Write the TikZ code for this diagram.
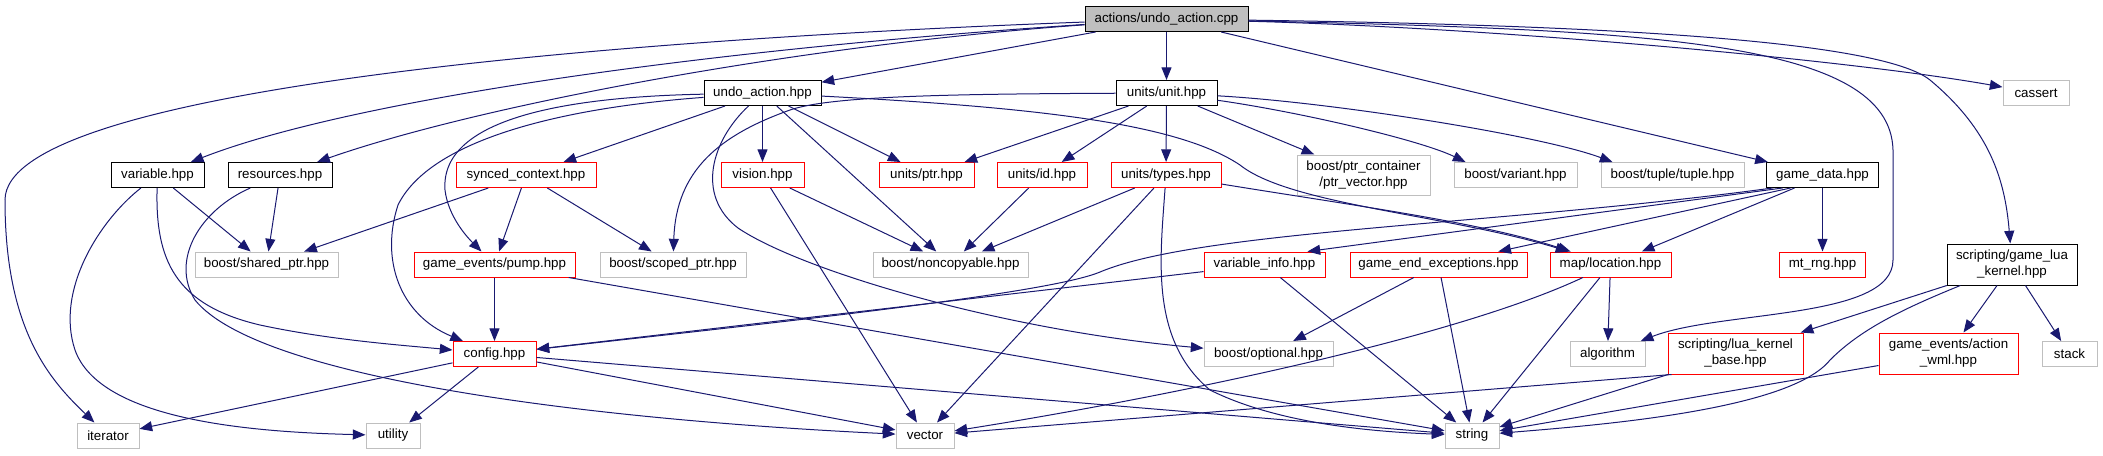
\documentclass[tikz,border=0pt]{standalone}
\usepackage{fontspec}
\setmainfont{Liberation Sans}
\usetikzlibrary{arrows.meta,calc}
\definecolor{edgeblue}{HTML}{191970}
\definecolor{greyline}{HTML}{BFBFBF}
\definecolor{greyfill}{HTML}{BFBFBF}
\tikzset{
  box/.style={draw, line width=0.75pt, inner sep=0pt, minimum height=25*0.75pt,
    font=\fontsize{10}{12}\selectfont, align=center, fill=white},
  blk/.style={box, draw=black},
  rd/.style={box, draw=red},
  gr/.style={box, draw=greyline},
  wd/.style={minimum width=#1*0.75pt},
  ht/.style={minimum height=#1*0.75pt},
  edg/.style={draw=edgeblue, line width=0.75pt, -{Triangle[length=9.5pt,width=7.5pt]}},
}
\begin{document}
\begin{tikzpicture}[x=0.75pt,y=-0.75pt]
\useasboundingbox (0,0) rectangle (2103,455);
% nodes
\node[blk, fill=greyfill, wd=163] (cpp) at (1166.5,19) {actions/undo\_action.cpp};
\node[blk, wd=117] (undo) at (762.5,93) {undo\_action.hpp};
\node[blk, wd=101] (unit) at (1166.5,93) {units/unit.hpp};
\node[gr, wd=66] (cassert) at (2036,93) {cassert};
\node[blk, wd=93] (variable) at (157.5,175) {variable.hpp};
\node[blk, wd=104] (resources) at (280,175) {resources.hpp};
\node[rd, wd=140] (synced) at (526,175) {synced\_context.hpp};
\node[rd, wd=83] (vision) at (762.5,175) {vision.hpp};
\node[rd, wd=95] (uptr) at (926.5,175) {units/ptr.hpp};
\node[rd, wd=90] (uid) at (1042,175) {units/id.hpp};
\node[rd, wd=110] (utypes) at (1166,175) {units/types.hpp};
\node[gr, wd=133, ht=40] (ptrvec) at (1363.5,175) {boost/ptr\_container\\/ptr\_vector.hpp};
\node[gr, wd=123] (variant) at (1515.5,175) {boost/variant.hpp};
\node[gr, wd=143] (tuple) at (1672.5,175) {boost/tuple/tuple.hpp};
\node[blk, wd=112] (gamedata) at (1822.5,175) {game\_data.hpp};
\node[gr, wd=143] (shared) at (266.5,264.5) {boost/shared\_ptr.hpp};
\node[rd, wd=161] (pump) at (494.5,264.5) {game\_events/pump.hpp};
\node[gr, wd=146] (scoped) at (673,264.5) {boost/scoped\_ptr.hpp};
\node[gr, wd=155] (noncopy) at (950.5,264.5) {boost/noncopyable.hpp};
\node[rd, wd=121] (varinfo) at (1264.5,264.5) {variable\_info.hpp};
\node[rd, wd=177] (gameend) at (1438.5,264.5) {game\_end\_exceptions.hpp};
\node[rd, wd=121] (location) at (1610.5,264.5) {map/location.hpp};
\node[rd, wd=86] (mtrng) at (1822.5,264.5) {mt\_rng.hpp};
\node[blk, wd=130, ht=41] (luakernel) at (2012,264.5) {scripting/game\_lua\\\_kernel.hpp};
\node[rd, wd=83] (config) at (494.5,354) {config.hpp};
\node[gr, wd=129] (optional) at (1268.5,354) {boost/optional.hpp};
\node[gr, wd=75] (algorithm) at (1607.5,354) {algorithm};
\node[rd, wd=135, ht=41] (luabase) at (1735.5,353.5) {scripting/lua\_kernel\\\_base.hpp};
\node[rd, wd=139, ht=41] (actionwml) at (1948.5,353.5) {game\_events/action\\\_wml.hpp};
\node[gr, wd=55] (stack) at (2069.5,354) {stack};
\node[gr, wd=62] (iterator) at (108,435.5) {iterator};
\node[gr, wd=54] (utility) at (393,435.5) {utility};
\node[gr, wd=58] (vector) at (925,435.5) {vector};
\node[gr, wd=54] (string) at (1472,435.5) {string};
% edges from cpp
\draw[edg] (cpp) .. controls (600,40) and (5,90) .. (5,200) .. controls (5,330) and (50,380) .. (iterator);
\draw[edg] (cpp) .. controls (700,50) and (350,100) .. (variable);
\draw[edg] (cpp) .. controls (800,45) and (480,105) .. (resources);
\draw[edg] (cpp) -- (undo);
\draw[edg] (cpp) -- (unit);
\draw[edg] (cpp) .. controls (1500,28) and (1850,60) .. (cassert);
\draw[edg] (cpp) .. controls (1600,25) and (1880,40) .. (1930,80) .. controls (1990,130) and (2005,180) .. (luakernel);
\draw[edg] (cpp) .. controls (1650,30) and (1890,40) .. (1893,150) -- (1893,260) .. controls (1893,320) and (1720,310) .. (algorithm);
\draw[edg] (cpp) -- (gamedata);
% unit
\draw[edg] (unit) -- (uptr);
\draw[edg] (unit) -- (uid);
\draw[edg] (unit) -- (utypes);
\draw[edg] (unit) -- (ptrvec);
\draw[edg] (unit) .. controls (1300,112) and (1420,140) .. ($(variant.north west)+(12,0)$);
\draw[edg] (unit) .. controls (1330,102) and (1540,135) .. ($(tuple.north west)+(12,0)$);
\draw[edg] (unit) .. controls (950,94) and (830,96) .. (790,110) .. controls (720,135) and (676,170) .. (scoped);
% undo
\draw[edg] (undo) -- (synced);
\draw[edg] (undo) -- (vision);
\draw[edg] (undo) -- (uptr);
\draw[edg] (undo) -- (noncopy);
\draw[edg] (undo) .. controls (712,140) and (695,195) .. (738,228) .. controls (800,270) and (1000,330) .. (optional);
\draw[edg] (undo) .. controls (560,97) and (440,120) .. (445,190) .. controls (448,215) and (465,235) .. (pump);
\draw[edg] (undo) .. controls (560,108) and (430,140) .. (398,205) .. controls (380,260) and (400,315) .. (config);
\draw[edg] (undo) .. controls (1050,108) and (1180,125) .. (1240,165) .. controls (1290,205) and (1450,215) .. (location);
% vision, id, types
\draw[edg] (vision) -- (noncopy);
\draw[edg] (vision) -- (vector);
\draw[edg] (uid) -- (noncopy);
\draw[edg] (utypes) -- (noncopy);
\draw[edg] (utypes) -- (vector);
\draw[edg] (utypes) .. controls (1160,260) and (1150,340) .. (1210,390) .. controls (1280,425) and (1380,432) .. (string);
\draw[edg] (utypes) .. controls (1350,205) and (1480,222) .. (location);
% variable, resources, synced
\draw[edg] (variable) .. controls (100,220) and (55,290) .. (75,350) .. controls (100,420) and (250,432) .. (utility);
\draw[edg] (variable) .. controls (155,260) and (175,305) .. (260,325) .. controls (330,340) and (400,345) .. (config);
\draw[edg] (variable) -- (shared);
\draw[edg] (resources) -- (shared);
\draw[edg] (resources) .. controls (200,210) and (170,260) .. (195,300) .. controls (260,380) and (600,420) .. (vector);
\draw[edg] (synced) -- (shared);
\draw[edg] (synced) -- (pump);
\draw[edg] (synced) -- (scoped);
% pump, config
\draw[edg] (pump) -- (config);
\draw[edg] (pump) -- (string);
\draw[edg] (config) -- (iterator);
\draw[edg] (config) -- (utility);
\draw[edg] (config) -- (vector);
\draw[edg] (config) -- (string);
% game data
\draw[edg] ($(gamedata.south)+(-50,0)$) .. controls (1500,225) and (1200,230) .. (1100,272) .. controls (1050,293) and (800,320) .. (config);
\draw[edg] ($(gamedata.south)+(-40,0)$) -- ($(varinfo.north east)+(-18,0)$);
\draw[edg] ($(gamedata.south)+(-32,0)$) -- (gameend);
\draw[edg] ($(gamedata.south)+(-28,0)$) -- (location);
\draw[edg] (gamedata) -- (mtrng);
% varinfo, gameend, location
\draw[edg] (varinfo) -- (config);
\draw[edg] (varinfo) -- (string);
\draw[edg] (gameend) -- (optional);
\draw[edg] (gameend) -- (string);
\draw[edg] (location) -- (algorithm);
\draw[edg] (location) -- (string);
\draw[edg] (location) .. controls (1450,340) and (1150,400) .. (vector);
% lua
\draw[edg] (luakernel) -- (luabase);
\draw[edg] (luakernel) -- (actionwml);
\draw[edg] (luakernel) -- (stack);
\draw[edg] (luakernel) .. controls (1900,310) and (1860,330) .. (1830,360) .. controls (1790,410) and (1600,425) .. (string);
\draw[edg] ($(luabase.south west)+(4,0)$) -- (vector);
\draw[edg] (luabase) -- (string);
\draw[edg] (actionwml) -- (string);
\end{tikzpicture}
\end{document}
